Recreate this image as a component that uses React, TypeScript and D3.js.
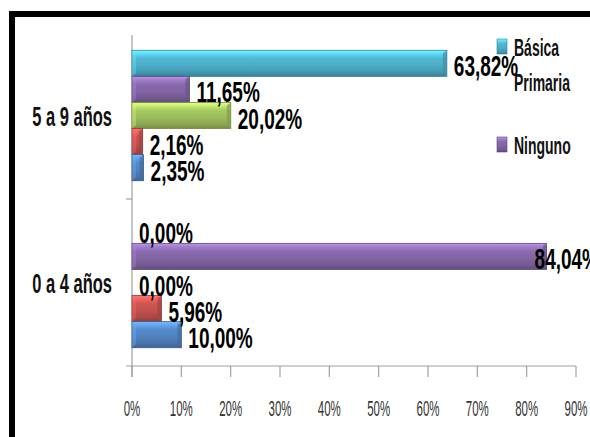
import React from 'react';
import * as d3 from 'd3';

const categories = ['5 a 9 años', '0 a 4 años'];
const seriesNames = ['Básica Primaria', 'Ninguno', 'Básica Secundaria', 'Media', 'Preescolar'];
const seriesColors = ['#4bacc6', '#8064a2', '#9bbb59', '#c0504d', '#4f81bd'];
const values5a9 = [63.82, 11.65, 20.02, 2.16, 2.35];
const values0a4 = [0.0, 84.04, 0.0, 5.96, 10.0];
const xTicks = [0, 10, 20, 30, 40, 50, 60, 70, 80, 90];
const legendSeries = ['Básica Primaria', 'Ninguno'];
const legendLines = [['Básica', 'Primaria'], ['Ninguno']];

const W = 590;
const H = 437;
const FONT = "'Liberation Sans', Arial, sans-serif";

const locale = d3.formatLocale({ decimal: ',', thousands: '.', grouping: [3], currency: ['', ''] });
const fmt2 = locale.format('.2f');
const fmt0 = locale.format('.0f');

function SText(props: any) {
  const { x, y, sy, children, ...rest } = props;
  return (
    <text transform={`translate(${x},${y}) scale(1,${sy})`} x={0} y={0} {...rest}>
      {children}
    </text>
  );
}

export default function App() {
  const valuesByCat: Record<string, number[]> = {
    [categories[0]]: values5a9,
    [categories[1]]: values0a4,
  };
  const x = d3.scaleLinear().domain([0, 90]).range([132, 576]);
  const y = d3.scaleBand<string>().domain(categories).range([32, 366]);
  const yInner = d3
    .scaleBand<string>()
    .domain(seriesNames)
    .range([0, y.bandwidth()])
    .paddingOuter(0.7)
    .paddingInner(0);
  const bh = yInner.bandwidth();
  const axisY = y.range()[1];
  const x0 = x(0);

  const grads = seriesColors.map((c, i) => {
    const base = d3.color(c)!;
    return {
      id: `g${i}`,
      stops: [
        [0, base.brighter(1.1).formatHex()],
        [0.12, base.brighter(0.7).formatHex()],
        [0.3, base.brighter(0.2).formatHex()],
        [0.6, base.formatHex()],
        [0.85, base.darker(0.35).formatHex()],
        [1, base.darker(0.8).formatHex()],
      ],
      stroke: base.darker(0.9).formatHex(),
      cap: base.darker(0.5).formatHex(),
      light: base.brighter(0.9).formatHex(),
    };
  });

  return (
    <svg width={W} height={H} style={{ position: 'absolute', left: 0, top: 0, background: '#fff' }}>
      <defs>
        {grads.map((g) => (
          <linearGradient key={g.id} id={g.id} x1="0" y1="0" x2="0" y2="1">
            {g.stops.map(([o, c], k) => (
              <stop key={k} offset={o as number} stopColor={c as string} />
            ))}
          </linearGradient>
        ))}
      </defs>
      <rect x={0} y={0} width={W} height={H} fill="#fff" />

      {/* axes */}
      <line x1={x0} x2={x0} y1={y.range()[0] + 3} y2={axisY + 11} stroke="#a0a0a0" strokeWidth={1.2} />
      <line x1={x0 - 6} x2={x(90)} y1={axisY} y2={axisY} stroke="#a0a0a0" strokeWidth={1.2} />
      {categories.slice(1).map((c) => (
        <line key={c} x1={x0 - 6} x2={x0} y1={y(c)!} y2={y(c)!} stroke="#a0a0a0" strokeWidth={1.2} />
      ))}
      {xTicks.map((t) => (
        <g key={t}>
          <line x1={x(t)} x2={x(t)} y1={axisY} y2={axisY + 11} stroke="#a0a0a0" strokeWidth={1.2} />
          <SText
            x={x(t)}
            y={416}
            sy={1.9}
            textAnchor="middle"
            fontFamily={FONT}
            fontSize={11.5}
            fill="#333"
          >
            {fmt0(t) + '%'}
          </SText>
        </g>
      ))}

      {/* category labels */}
      {categories.map((c) => (
        <SText
          key={c}
          x={112}
          y={y(c)! + y.bandwidth() / 2 + 10}
          sy={1.7}
          textAnchor="end"
          fontFamily={FONT}
          fontWeight="bold"
          fontSize={16.5}
          fill="#111"
        >
          {c}
        </SText>
      ))}

      {/* bars */}
      {categories.map((c) =>
        seriesNames.map((s, i) => {
          const v = valuesByCat[c][i];
          const y0 = y(c)! + yInner(s)!;
          const y1 = y0 + bh;
          const xe = x(v);
          const g = grads[i];
          const w = xe - x0;
          return (
            <g key={c + s}>
              {v > 0 && (
                <>
                  <rect x={x0} y={y0} width={w} height={bh} fill={`url(#${g.id})`} stroke={g.stroke} strokeWidth={0.8} />
                  <polygon
                    points={`${xe - Math.min(4, w / 2)},${y0 + 3} ${xe},${y0} ${xe},${y1} ${xe - Math.min(4, w / 2)},${y1 - 3}`}
                    fill={g.cap}
                    opacity={0.7}
                  />
                  <polygon
                    points={`${x0},${y0} ${x0 + Math.min(4, w / 2)},${y0 + 3} ${x0 + Math.min(4, w / 2)},${y1 - 3} ${x0},${y1}`}
                    fill={g.light}
                    opacity={0.35}
                  />
                </>
              )}
            </g>
          );
        })
      )}

      {/* data labels */}
      {categories.map((c) =>
        seriesNames.map((s, i) => {
          const v = valuesByCat[c][i];
          const y0 = y(c)! + yInner(s)!;
          const xe = x(v);
          let lx = xe + 7;
          if (lx + 60 > W) lx = xe - 12;
          return (
            <SText
              key={'l' + c + s}
              x={lx}
              y={y0 + bh / 2 + 13}
              sy={1.6}
              fontFamily={FONT}
              fontWeight="bold"
              fontSize={19}
              fill="#000"
            >
              {fmt2(v) + '%'}
            </SText>
          );
        })
      )}

      {/* legend */}
      {legendSeries.map((s, k) => {
        const i = seriesNames.indexOf(s);
        const g = grads[i];
        const my = 39 + k * 98;
        return (
          <g key={s}>
            <rect x={497} y={my} width={10} height={15} fill={`url(#${g.id})`} stroke={g.stroke} strokeWidth={0.6} />
            {legendLines[k].map((ln, j) => (
              <SText
                key={ln}
                x={514}
                y={my + 17 + j * 35}
                sy={1.65}
                fontFamily={FONT}
                fontWeight="bold"
                fontSize={14}
                fill="#111"
              >
                {ln}
              </SText>
            ))}
          </g>
        );
      })}

      {/* frame */}
      <rect x={12} y={14} width={W + 20} height={H + 20} fill="none" stroke="#000" strokeWidth={6} />
    </svg>
  );
}
